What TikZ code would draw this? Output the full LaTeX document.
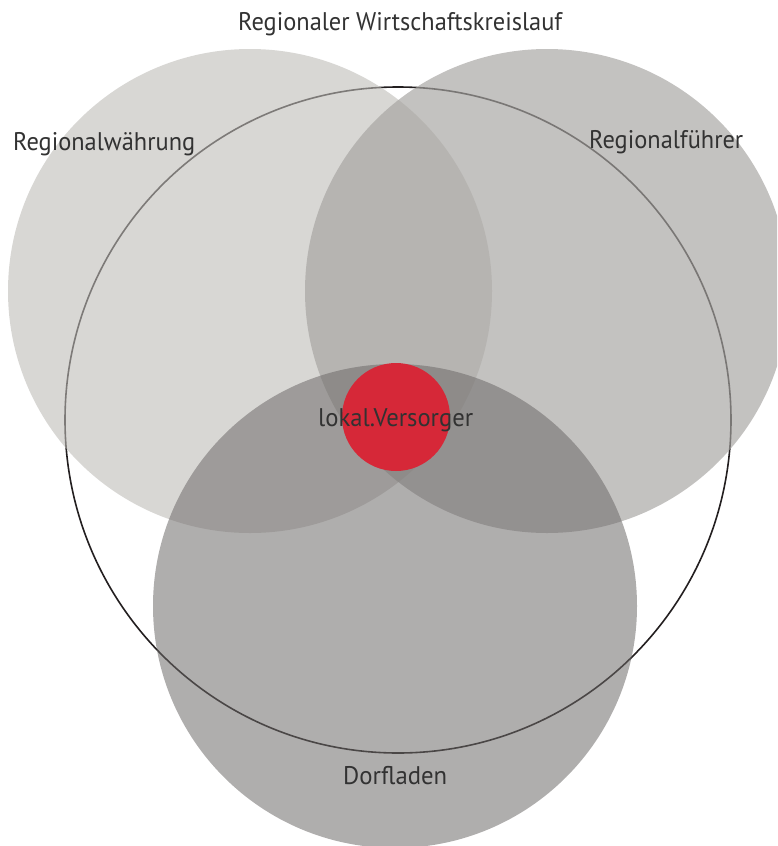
\documentclass[tikz,border=0pt]{standalone}
\usepackage{fontspec}
\setmainfont{PT Sans}
\usetikzlibrary{positioning}
\definecolor{cL}{RGB}{189,187,182}
\definecolor{cR}{RGB}{165,163,160}
\definecolor{cB}{RGB}{108,105,104}
\definecolor{cRed}{RGB}{214,40,56}
\definecolor{outl}{RGB}{35,31,32}
\definecolor{txt}{RGB}{50,50,50}
\newcommand{\wtext}[2]{\resizebox{#1pt}{\height}{#2}}
\begin{document}
\begin{tikzpicture}[x=1pt,y=-1pt,
  disc/.style={circle, inner sep=0pt, draw=none, minimum size=484pt},
  lbl/.style={inner sep=0pt, text=txt, anchor=base west, font=\fontsize{25.5}{29}\selectfont}]
\useasboundingbox (0,0) rectangle (777,846);
\clip (0,0) rectangle (777,846);
\node[circle, inner sep=0pt, minimum size=666pt, draw=outl, line width=1.6pt] (ring) at (398,420) {};
\node[disc, fill=cL, fill opacity=0.59] (L) at (250,291) {};
\node[disc, fill=cR, fill opacity=0.667] (R) at (547,291) {};
\node[disc, fill=cB, fill opacity=0.54] (B) at (395,606) {};
\node[circle, inner sep=0pt, minimum size=108pt, fill=cRed] (red) at (396,417) {};
\node[lbl] (title) at (238,30) {\wtext{324}{Regionaler Wirtschaftskreislauf}};
\node[lbl] (tL) at (13,150) {\wtext{182}{Regionalwährung}};
\node[lbl] (tR) at (589,148) {\wtext{154}{Regionalführer}};
\node[lbl] (tC) at (318,426) {\wtext{155}{lokal.Versorger}};
\node[lbl] (tB) at (343,784) {\wtext{104}{Dorfladen}};
\end{tikzpicture}
\end{document}
